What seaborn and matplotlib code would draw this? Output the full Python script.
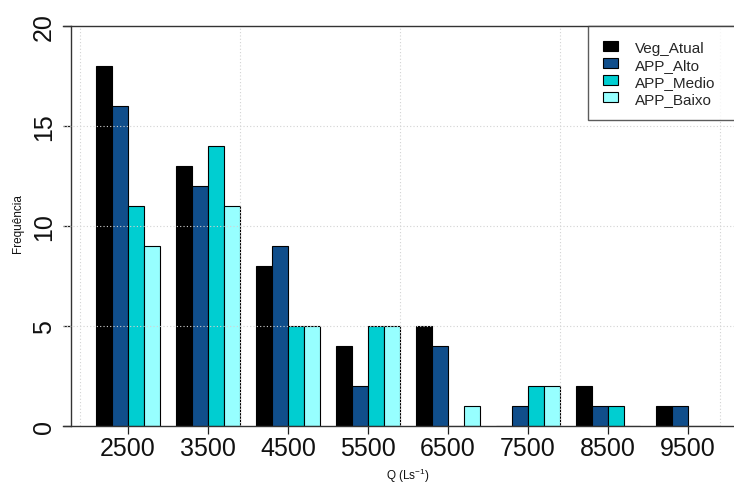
import matplotlib
matplotlib.use("Agg")
import matplotlib.pyplot as plt
import seaborn as sns
import pandas as pd

# Discharge classes (L/s) and frequency per scenario
classes = ["2500", "3500", "4500", "5500", "6500", "7500", "8500", "9500"]
series = ["Veg_Atual", "APP_Alto", "APP_Medio", "APP_Baixo"]
veg_atual = [18, 13, 8, 4, 5, 0, 2, 1]
app_alto = [16, 12, 9, 2, 4, 1, 1, 1]
app_medio = [11, 14, 5, 5, 0, 2, 1, 0]
app_baixo = [9, 11, 5, 5, 1, 2, 0, 0]
colors = ["#000000", "#104E8B", "#00CED1", "#97FFFF"]

sns.set_theme(style="white")
plt.rcParams["font.family"] = ["Liberation Sans", "DejaVu Sans"]
plt.rcParams["mathtext.default"] = "regular"

rows = []
for name, vals in zip(series, [veg_atual, app_alto, app_medio, app_baixo]):
    for c, v in zip(classes, vals):
        rows.append({"Q": c, "freq": v, "serie": name})
df = pd.DataFrame(rows)

W, H = 734, 485
fig = plt.figure(figsize=(W / 100, H / 100), dpi=100)
ax = fig.add_axes([63 / W, (H - 427) / H, (753 - 63) / W, 400 / H])

sns.barplot(data=df, x="Q", y="freq", hue="serie", order=classes,
            hue_order=series, palette=colors, saturation=1, width=0.8,
            edgecolor="black", linewidth=0.8, gap=0, errorbar=None, ax=ax)

ax.set_xlim(-0.8125, 7.8125)
ax.set_ylim(0, 20)

# dotted grid drawn above the bars
for yv in [5, 10, 15]:
    ax.axhline(yv, color="#d3d3d3", linestyle=(0, (1, 2)), linewidth=0.8, zorder=5)
for xv in [-0.6, 1.4, 3.4, 5.4, 7.4]:
    ax.axvline(xv, color="#d3d3d3", linestyle=(0, (1, 2)), linewidth=0.8, zorder=5)

for s in ["top", "bottom", "left"]:
    ax.spines[s].set_visible(True)
    ax.spines[s].set_color("#333333")
    ax.spines[s].set_linewidth(1.0)
ax.spines["right"].set_visible(False)
ax.spines["left"].set_position(("data", -0.7125))
ax.spines["bottom"].set_zorder(6)

ax.set_yticks([0, 5, 10, 15, 20])
ax.set_yticklabels(["0", "5", "10", "15", "20"], rotation=90, va="center")
ax.tick_params(axis="both", which="both", direction="out", length=6,
               width=0.9, color="#222222", labelsize=18, labelcolor="#111111",
               left=True, bottom=True)
ax.tick_params(axis="y", pad=5)
ax.tick_params(axis="x", pad=1.5)

ax.set_xlabel("")
ax.set_ylabel("")
fig.text(408 / W, 1 - 476 / H, "Q (Ls$^{-1}$)", ha="center", va="center",
         fontsize=8.5, color="#111111")
fig.text(18 / W, 1 - 224 / H, "Frequência", ha="center", va="center",
         rotation=90, fontsize=8.5, color="#111111")

handles, labels = ax.get_legend_handles_labels()
if ax.get_legend() is not None:
    ax.get_legend().remove()
leg = fig.legend(handles, labels, loc="upper left",
                 bbox_to_anchor=(588 / W, 1 - 119 / H, (753 - 588) / W, 92 / H),
                 mode="expand", borderaxespad=0, frameon=True, fancybox=False,
                 fontsize=11, handlelength=1.0, handleheight=0.6,
                 handletextpad=1.1, labelspacing=0.2, borderpad=0.95)
leg.get_frame().set_edgecolor("#333333")
leg.get_frame().set_linewidth(1.0)

fig.savefig("out.png", dpi=100)
